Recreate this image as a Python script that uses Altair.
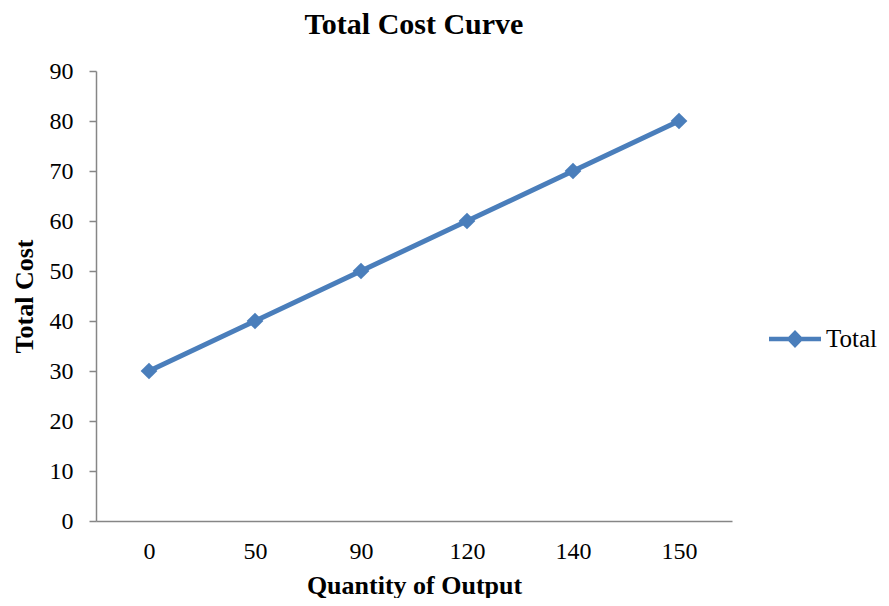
import altair as alt
import pandas as pd

quantity = ["0", "50", "90", "120", "140", "150"]
total_cost = [30, 40, 50, 60, 70, 80]
series = ["Total"] * len(quantity)

df = pd.DataFrame({"Quantity": quantity, "Cost": total_cost, "Series": series})

COLOR = "#4a7ebb"
FONT = "Liberation Serif"
legend_path = ("M-2,-0.17 L-0.5,-0.17 L0,-0.7 L0.5,-0.17 L2,-0.17 "
               "L2,0.17 L0.5,0.17 L0,0.7 L-0.5,0.17 L-2,0.17 Z")

x_enc = alt.X("Quantity:N", sort=quantity, title="Quantity of Output",
              scale=alt.Scale(paddingInner=0, paddingOuter=0.5),
              axis=alt.Axis(labelAngle=0, ticks=False, grid=False, domainColor="#868686",
                            domainWidth=1.5,
                            labelFont=FONT, labelFontSize=24, labelColor="black", labelPadding=18,
                            titleFont=FONT, titleFontSize=26, titleFontWeight="bold",
                            titleColor="black", titlePadding=9))
y_enc = alt.Y("Cost:Q", title="Total Cost",
              scale=alt.Scale(domain=[0, 90], nice=False),
              axis=alt.Axis(values=list(range(0, 91, 10)), grid=False, tickSize=7,
                            tickColor="#868686", domainColor="#868686", tickWidth=1.5,
                            domainWidth=1.5,
                            labelFont=FONT, labelFontSize=24, labelColor="black", labelPadding=16,
                            titleFont=FONT, titleFontSize=26, titleFontWeight="bold",
                            titleColor="black", titlePadding=12))
color_enc = alt.Color("Series:N", scale=alt.Scale(range=[COLOR]), title=None,
                      legend=alt.Legend(orient="none", legendX=686, legendY=255,
                                        symbolType=legend_path, symbolSize=676,
                                        symbolFillColor=COLOR, symbolStrokeWidth=0,
                                        labelFont=FONT, labelFontSize=25, labelColor="black",
                                        labelOffset=18, labelLimit=200))

base = alt.Chart(df).encode(x=x_enc, y=y_enc, color=color_enc)
line = base.mark_line(strokeWidth=5)
pts = base.mark_point(shape="diamond", filled=True, size=280, opacity=1)

chart = (line + pts).properties(
    width=636, height=450,
    title=alt.TitleParams("Total Cost Curve", font=FONT, fontSize=30, fontWeight="bold",
                          color="black", anchor="middle", offset=19),
    autosize=alt.AutoSizeParams(type="none"),
    padding={"left": 88, "top": 63, "right": 149, "bottom": 77},
).configure_view(stroke=None)

chart.save("out.html", embed_options={"renderer": "svg", "actions": False})
